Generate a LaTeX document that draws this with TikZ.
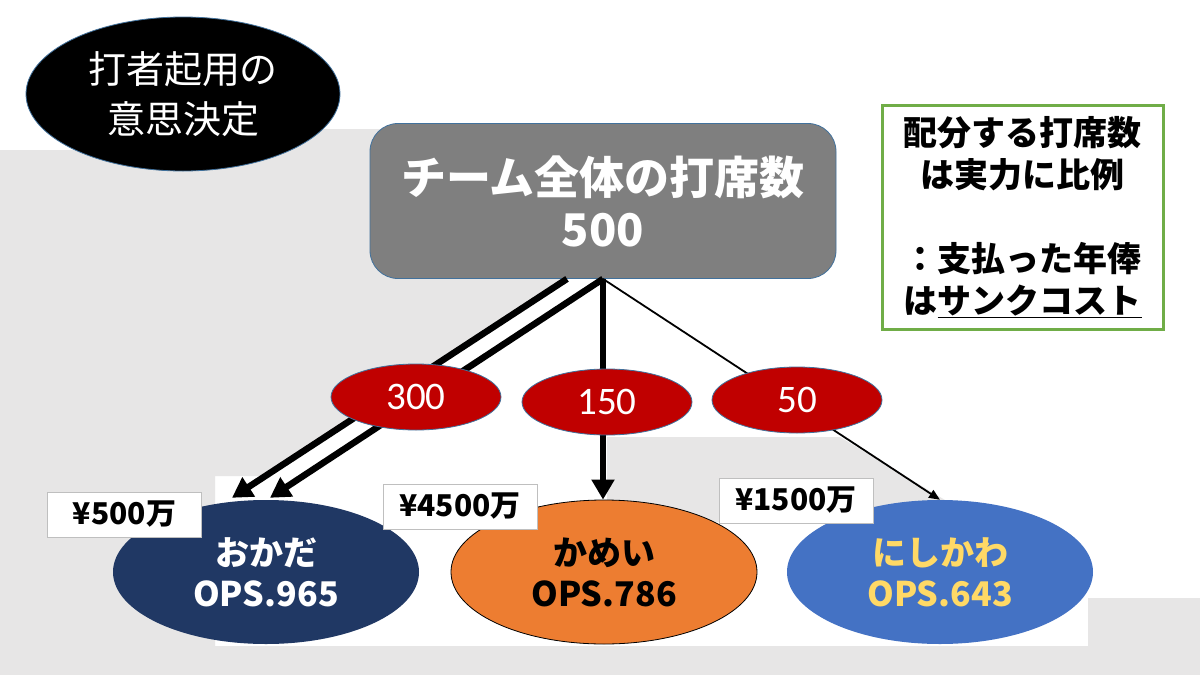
\documentclass[tikz,border=0pt]{standalone}
\usepackage{fontspec}
\setmainfont{Noto Sans CJK JP}
\newfontfamily\numfont{Carlito}
\usetikzlibrary{shapes.geometric,arrows.meta,calc}
\definecolor{bggray}{HTML}{E7E6E6}
\definecolor{boxgray}{HTML}{7F7F7F}
\definecolor{edgeblue}{HTML}{41719C}
\definecolor{redfill}{HTML}{C00000}
\definecolor{navy}{HTML}{203864}
\definecolor{orangefill}{HTML}{ED7D31}
\definecolor{bluefill}{HTML}{4472C4}
\definecolor{yellowtext}{HTML}{FFD966}
\definecolor{greenedge}{HTML}{70AD47}
\definecolor{pricegray}{HTML}{BFBFBF}
\begin{document}
\begin{tikzpicture}[x=1pt,y=-1pt,
  redell/.style={ellipse,fill=redfill,draw=edgeblue,line width=0.8pt,inner sep=0pt,
    minimum width=170,minimum height=66,text=white,font=\numfont\fontsize{39}{42}\selectfont},
  player/.style={ellipse,inner sep=0pt,minimum width=306,minimum height=144,
    align=center,font=\fontsize{34}{41}\selectfont\bfseries},
  pricebox/.style={rectangle,fill=white,draw=pricegray,line width=0.8pt,inner sep=0pt,
    minimum width=154,minimum height=45,font=\fontsize{30}{34}\selectfont\bfseries},
  thickarrow/.style={line width=6.5pt,-{Triangle[length=20pt,width=22pt]}},
  thinarrow/.style={line width=1.8pt,-{Triangle[length=11pt,width=9pt]}}]
\useasboundingbox (0,0) rectangle (1200,675);
\fill[white] (0,0) rectangle (1200,675);
% background
\fill[bggray] (0,150) -- (180,150) -- (180,129) -- (603,129) -- (603,278) -- (567,278)
  -- (266,476) -- (215,476) -- (215,646) -- (0,646) -- cycle;
\fill[bggray] (607,437) -- (840,437) -- (945,500) -- (945,522) -- (607,522) -- cycle;
\fill[bggray] (1088,598) rectangle (1200,646);
\fill[bggray] (0,646) rectangle (1200,675);
% nodes
\node[ellipse,fill=black,draw=edgeblue,line width=0.8pt,inner sep=0pt,minimum width=314,
  minimum height=154,text=white,align=center,font=\fontsize{38}{50}\selectfont]
  (title) at (183,94) {打者起用の\\意思決定};
\node[rectangle,rounded corners=28pt,fill=boxgray,draw=edgeblue,line width=0.8pt,
  minimum width=466,minimum height=155,inner sep=0pt,text=white,align=center,
  font=\fontsize{45}{52}\selectfont\bfseries] (total) at (603,201) {チーム全体の打席数\\500};
\node[rectangle,draw=greenedge,line width=3pt,fill=white,minimum width=281,minimum height=224,
  inner sep=0pt,align=center,font=\fontsize{34}{42}\selectfont\bfseries] (note) at (1022.5,217)
  {配分する打席数\\は実力に比例\\[42pt]：支払った年俸\\は\underline{サンクコスト}};
\node[player,fill=navy,text=white] (okada) at (266,572) {おかだ\\OPS.965};
\node[player,fill=orangefill,draw=black,line width=0.8pt,text=black] (kamei) at (604,572) {かめい\\OPS.786};
\node[player,fill=bluefill,text=yellowtext] (nishi) at (940,572) {にしかわ\\OPS.643};
% connectors
\draw[thickarrow] ($(total.south)+(-36,0)$) -- ($(okada.north)+(-34,-2)$);
\draw[thickarrow] (total.south) -- ($(okada.north)+(4,-2)$);
\draw[thickarrow] (total.south) -- ($(kamei.north)+(-1,0)$);
\draw[thinarrow] (total.south) -- (nishi.north);
\node[redell] (a300) at (416,397) {300};
\node[redell] (a150) at (607,402) {150};
\node[redell] (a50) at (797,400) {50};
\node[pricebox] (p1) at (124.5,514.5) {¥500万};
\node[pricebox] (p2) at (460,506.5) {¥4500万};
\node[pricebox] (p3) at (796,500.5) {¥1500万};
\end{tikzpicture}
\end{document}
